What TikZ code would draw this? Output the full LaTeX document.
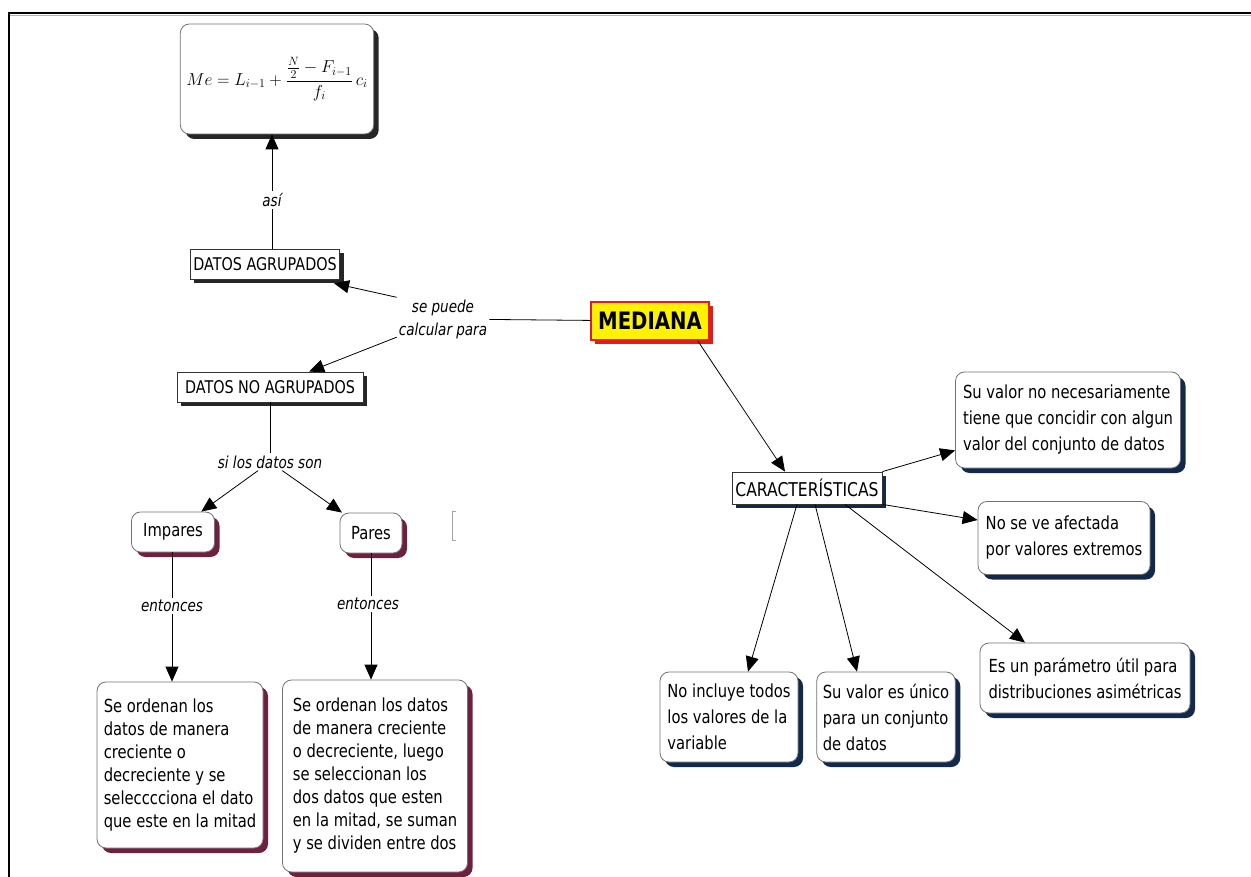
\documentclass[tikz,border=0pt]{standalone}
\usepackage{fontspec}
\newfontfamily\mapfont{DejaVu Sans}[FakeStretch=0.82]
\usepackage{tikz}
\usetikzlibrary{positioning}
\usetikzlibrary{arrows.meta}
\usetikzlibrary{shadows}
\usepackage{amsmath}
\usepackage{xcolor}

\definecolor{shadowwine}{HTML}{6E2040}
\definecolor{shadownavy}{HTML}{13294B}
\definecolor{rootred}{HTML}{E31B1B}
\definecolor{rootyellow}{HTML}{FFF200}

\tikzset{
  roundbox/.style={draw=black!55, fill=white, rounded corners=9pt, line width=0.8pt, align=left, inner sep=6pt},
  winebox/.style={roundbox, font=\mapfont\fontsize{18}{23}\selectfont,
    drop shadow={shadow xshift=5pt, shadow yshift=-5pt, fill=shadowwine, opacity=1}},
  navybox/.style={roundbox, font=\mapfont\fontsize{18}{26}\selectfont,
    drop shadow={shadow xshift=5pt, shadow yshift=-5pt, fill=shadownavy, opacity=1}},
  flatbox/.style={draw=black!80, fill=white, line width=0.8pt, inner sep=3pt, font=\mapfont\fontsize{17.5}{20}\selectfont,
    drop shadow={shadow xshift=4pt, shadow yshift=-4pt, fill=black!85, opacity=1}},
  rootbox/.style={draw=rootred, fill=rootyellow, line width=1.2pt, inner sep=2pt, font=\mapfont\bfseries\fontsize{24}{26}\selectfont,
    drop shadow={shadow xshift=4pt, shadow yshift=-4pt, fill=rootred, opacity=1}},
  linklabel/.style={font=\mapfont\itshape\fontsize{16.5}{23}\selectfont, align=center, inner sep=2pt},
  link/.style={line width=0.8pt, black},
  arr/.style={link, -{Triangle[length=15pt,width=13pt]}},
}

\begin{document}
\begin{tikzpicture}[x=1pt, y=-1pt]
\useasboundingbox (0,0) rectangle (1251,877);

% frame
\draw[gray!60, line width=1pt] (10,16) -- (1251,16);
\draw[black, line width=2pt] (9,877) -- (9,13) -- (1251,13);

% root
\node (mediana) at (650,321) [rootbox, minimum width=118pt, minimum height=38pt] {MEDIANA};
\node (calc) at (443,319) [linklabel] {se puede\\calcular para};
\draw[link] (mediana) -- (calc);

% left branch
\begin{scope}
\node (formula) at (277,79) [roundbox, minimum width=189pt, minimum height=110pt, font=\fontsize{16.5}{18}\selectfont,
  drop shadow={shadow xshift=5pt, shadow yshift=-5pt, fill=black!85, opacity=1}]
  {$Me = L_{i-1} + \dfrac{\frac{N}{2} - F_{i-1}}{f_i}\,c_i$};
\node (asi) at (272,200) [linklabel] {así};
\node (agrupados) at (265,264) [flatbox, minimum width=147pt, minimum height=30pt] {DATOS AGRUPADOS};
\node (noagrupados) at (270,387) [flatbox, minimum width=186pt, minimum height=30pt] {DATOS NO AGRUPADOS};
\node (sidatos) at (270,462) [linklabel] {si los datos son};
\node (impares) at (173,532) [winebox, minimum width=83pt, minimum height=40pt] {Impares};
\node (pares) at (371,533) [winebox, minimum width=62pt, minimum height=40pt] {Pares};
\node (ent1) at (172,606) [linklabel] {entonces};
\node (ent2) at (368,604) [linklabel] {entonces};
\node (ordimpar) at (180,765) [winebox, minimum width=166pt, minimum height=166pt]
  {Se ordenan los\\datos de manera\\creciente o\\decreciente y se\\selecccciona el dato\\que este en la mitad};
\node (ordpar) at (375,776) [winebox, minimum width=185pt, minimum height=192pt]
  {Se ordenan los datos\\de manera creciente\\o decreciente, luego\\se seleccionan los\\dos datos que esten\\en la mitad, se suman\\y se dividen entre dos};

\draw[link] (agrupados.north -| asi) -- (asi);
\draw[arr] (asi) -- (formula.south -| asi);
\draw[arr] (calc.north west) -- ([xshift=-6pt, yshift=-4pt]agrupados.south east);
\draw[arr] (calc) -- (noagrupados);
\draw[link] (noagrupados.south -| sidatos) -- (sidatos);
\draw[arr] (sidatos) -- (impares);
\draw[arr] (sidatos) -- (pares);
\draw[link] (impares.south -| ent1) -- (ent1);
\draw[arr] (ent1) -- (ordimpar.north -| ent1);
\draw[link] (pares.south) -- (pares.south |- ent2.north);
\draw[arr] (pares.south |- ent2.south) -- (ordpar.north -| pares);

% stray bracket
\draw[gray!70, line width=1pt] (456,511) -- (452,511) -- (452,540) -- (456,540);
\end{scope}

% right branch
\begin{scope}
\node (carac) at (807,488) [flatbox, minimum width=150pt, minimum height=32pt, font=\mapfont\fontsize{19}{20}\selectfont,
  drop shadow={shadow xshift=4pt, shadow yshift=-4pt, fill=shadownavy, opacity=1}] {CARACTERÍSTICAS};
\node (nocoincide) at (1068,420) [navybox, minimum width=225pt, minimum height=96pt]
  {Su valor no necesariamente\\tiene que concidir con algun\\valor del conjunto de datos};
\node (extremos) at (1064,538) [navybox, minimum width=172pt, minimum height=73pt]
  {No se ve afectada\\por valores extremos};
\node (asimetricas) at (1085,678) [navybox, minimum width=210pt, minimum height=70pt]
  {Es un parámetro útil para\\distribuciones asimétricas};
\node (noincluye) at (729,717) [navybox, minimum width=138pt, minimum height=90pt]
  {No incluye todos\\los valores de la\\variable};
\node (unico) at (886,717) [navybox, minimum width=138pt, minimum height=90pt]
  {Su valor es único\\para un conjunto\\de datos};

\draw[arr] ([xshift=-12pt]mediana.south east) -- ([xshift=-22pt]carac.north);
\draw[arr] (carac.north east) -- ([yshift=18pt]nocoincide.south west);
\draw[arr] (carac.south east) -- ([yshift=18pt]extremos.west);
\draw[arr] ([xshift=38pt]carac.south) -- ([xshift=-60pt]asimetricas.north);
\draw[arr] ([xshift=-10pt]carac.south) -- ([xshift=19pt]noincluye.north);
\draw[arr] ([xshift=8pt]carac.south) -- ([xshift=-29pt]unico.north);
\end{scope}
\end{tikzpicture}
\end{document}
